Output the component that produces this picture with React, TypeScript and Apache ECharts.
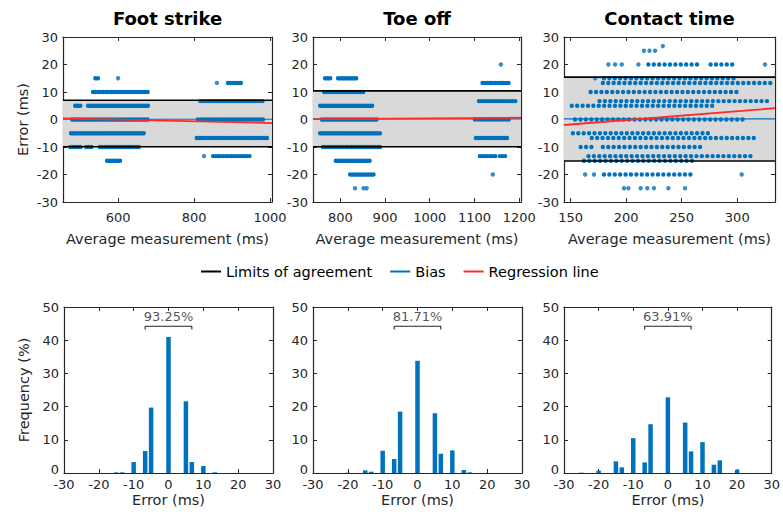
import { useEffect, useRef } from 'react';
import * as echarts from 'echarts';

const BLUE = '#0072BD';
const RED = '#FF2A2A';
const INK = '#262626';
const FONT = 'DejaVu Sans, Liberation Sans, Arial, sans-serif';

// ---------- Top row: Bland-Altman panels ----------
const titles = ['Foot strike', 'Toe off', 'Contact time'];

// rows of observations: [error, first average, last average]
const footXRange = [455, 1005];
const footXTicks = [600, 800, 1000];
const footRuns = [
  [15, 540, 553], [10, 534, 681], [5, 487, 503], [5, 521, 684], [0, 479, 679],
  [-5, 476, 671], [-10, 474, 502], [-10, 516, 531], [-10, 552, 658], [-15, 571, 610],
  [13.3, 889, 929], [6.7, 816, 981], [0, 810, 987], [-6.7, 807, 992], [-13.3, 850, 952],
];
const footPoints = [[600, 15], [860, 13.3], [826, -13.3]];
const footLoA = [7.0, -9.9];
const footBias = 0.1;
const footReg = [[455, 0.4], [1005, -1.3]];

const toeXRange = [739, 1204];
const toeXTicks = [800, 900, 1000, 1100, 1200];
const toeRuns = [
  [15, 766, 781], [15, 795, 837], [10, 764, 855], [5, 755, 873], [0, 759, 884],
  [-5, 755, 893], [-10, 761, 889], [-15, 790, 871], [-20, 822, 877],
  [13.3, 1118, 1181], [6.7, 1110, 1192], [0, 1101, 1179], [-6.7, 1103, 1177],
  [-13.3, 1112, 1150], [-13.3, 1157, 1169],
];
const toePoints = [[833, -25], [852, -25], [859, -25], [1159, 20], [1141, -20]];
const toeLoA = [10.4, -9.9];
const toeBias = 0.25;
const toeReg = [[739, 0.1], [1204, 0.65]];

const ctXRange = [144, 334];
const ctXTicks = [150, 200, 250, 300];
const ctRuns = [
  [20, 220, 265], [20, 276, 300], [15, 180, 301], [13.3, 179, 331], [10, 168, 303],
  [6.7, 176, 327], [5, 151, 282], [0, 154, 309], [-5, 152, 276], [-6.7, 169, 319],
  [-10, 159, 170], [-10, 179, 267], [-13.3, 166, 316], [-15, 162, 260], [-20, 180, 262],
];
const ctPoints = [
  [233, 26.7], [216, 25], [221, 25], [226, 25],
  [184, 20], [190, 20], [196, 20], [211, 20], [325, 20], [172, 15],
  [163, -20], [171, -20], [304, -20],
  [198, -25], [202, -25], [213, -25], [219, -25], [225, -25], [238, -25], [253, -25],
];
const ctLoA = [15.4, -15.1];
const ctBias = 0.25;
const ctReg = [[144, -2.0], [334, 4.1]];

const errorTicks = [-30, -20, -10, 0, 10, 20, 30];

// ---------- Bottom row: error histograms [error bin, frequency %] ----------
const footHist = [[-15, 0.2], [-13.3, 0.2], [-10, 3.3], [-6.7, 6.6], [-5, 19.7], [0, 41], [5, 21.6], [6.7, 3.3], [10, 2.1], [13.3, 0.2]];
const toeHist = [[-20, 0.1], [-15, 0.8], [-13.3, 0.4], [-10, 6.7], [-6.7, 4.2], [-5, 18.5], [0, 33.8], [5, 18], [6.7, 5.8], [10, 6.8], [13.3, 0.9], [15, 0.2]];
const ctHist = [[-25, 0.1], [-20, 0.7], [-15, 3.5], [-13.3, 1.7], [-10, 10.5], [-6.7, 3.2], [-5, 14.7], [0, 22.8], [5, 15.2], [6.7, 6.5], [10, 9.3], [13.3, 2.5], [15, 3.8], [20, 1.0]];
const histPercent = ['93.25%', '81.71%', '63.91%'];
const bracketRange = [-6.7, 6.7];
const bracketLevel = 44.2;
const freqTicks = [0, 10, 20, 30, 40, 50];

const legendItems = [
  { name: 'Limits of agreement', color: '#000' },
  { name: 'Bias', color: BLUE },
  { name: 'Regression line', color: RED },
];

const panels = [
  { xRange: footXRange, xTicks: footXTicks, runs: footRuns, points: footPoints, loa: footLoA, bias: footBias, reg: footReg, gap: 2.6 },
  { xRange: toeXRange, xTicks: toeXTicks, runs: toeRuns, points: toePoints, loa: toeLoA, bias: toeBias, reg: toeReg, gap: 2.6 },
  { xRange: ctXRange, xTicks: ctXTicks, runs: ctRuns, points: ctPoints, loa: ctLoA, bias: ctBias, reg: ctReg, gap: 5.4 },
];
const hists = [footHist, toeHist, ctHist];

const topGrids = [
  { left: 63, top: 37, width: 209, height: 165 },
  { left: 313, top: 37, width: 208, height: 165 },
  { left: 564, top: 37, width: 211, height: 165 },
];
const bottomGrids = [
  { left: 64, top: 307, width: 209, height: 166 },
  { left: 313, top: 307, width: 209, height: 166 },
  { left: 564, top: 307, width: 211, height: 166 },
];

function axisPair(kind: 'x' | 'y', g: number, min: number, max: number, ticks: number[], extra: any) {
  const line = { show: true, onZero: false, lineStyle: { color: INK, width: 1.2 } };
  const tick = { show: true, inside: true, length: 4, customValues: ticks, lineStyle: { color: INK, width: 1 } };
  const main: any = {
    type: 'value', gridIndex: g, min, max,
    position: kind === 'x' ? 'bottom' : 'left',
    axisLine: line, axisTick: tick, splitLine: { show: false },
    axisLabel: {
      customValues: ticks, color: INK, fontSize: 13, fontFamily: FONT, margin: extra.margin,
      formatter: extra.liftZero
        ? (v: number) => (v === 0 ? '{z|0}' : String(v))
        : (v: number) => String(v),
      rich: { z: { color: INK, fontSize: 13, fontFamily: FONT, padding: [0, 0, 8, 0] } },
    },
    nameLocation: 'middle', nameTextStyle: { color: INK, fontSize: 14.5, fontFamily: FONT },
    ...extra.main,
  };
  const opp: any = {
    type: 'value', gridIndex: g, min, max,
    position: kind === 'x' ? 'top' : 'right',
    axisLine: line, axisTick: tick, splitLine: { show: false }, axisLabel: { show: false },
  };
  return [main, opp];
}

function buildOption() {
  const grid: any[] = [...topGrids, ...bottomGrids];
  const xAxis: any[] = [];
  const yAxis: any[] = [];
  const series: any[] = [];

  panels.forEach((p, i) => {
    xAxis.push(...axisPair('x', i, p.xRange[0], p.xRange[1], p.xTicks, { margin: 9, main: { name: 'Average measurement (ms)', nameGap: 29 } }));
    yAxis.push(...axisPair('y', i, -30, 30, errorTicks, { margin: 5, main: i === 0 ? { name: 'Error (ms)', nameGap: 33 } : {} }));
  });
  hists.forEach((h, i) => {
    const g = 3 + i;
    xAxis.push(...axisPair('x', g, -30, 30, errorTicks, { margin: 5, main: { name: 'Error (ms)', nameGap: 19 } }));
    yAxis.push(...axisPair('y', g, 0, 50, freqTicks, { margin: 5, liftZero: true, main: i === 0 ? { name: 'Frequency (%)', nameGap: 33 } : {} }));
  });

  panels.forEach((p, i) => {
    const ax = { xAxisIndex: 2 * i, yAxisIndex: 2 * i };
    const [x0, x1] = p.xRange;
    p.runs.forEach((r) => {
      series.push({
        type: 'line', ...ax, silent: true, symbol: 'none', z: 3,
        data: [[r[1], r[0]], [r[2], r[0]]],
        lineStyle: { color: BLUE, width: 4.4, type: [0, p.gap], cap: 'round' },
      });
    });
    series.push({
      type: 'scatter', ...ax, silent: true, z: 3, symbolSize: 4.4,
      data: p.points, itemStyle: { color: BLUE },
    });
    series.push({
      type: 'line', name: 'Limits of agreement', color: '#000', ...ax, silent: true, symbol: 'none', z: 4,
      data: [[x0, p.loa[0]], [x1, p.loa[0]]],
      lineStyle: { color: '#000', width: 1.6 },
      markArea: { silent: true, z: 1, itemStyle: { color: '#d9d9d9' }, data: [[{ yAxis: p.loa[1] }, { yAxis: p.loa[0] }]] },
    });
    series.push({
      type: 'line', name: 'Limits of agreement', color: '#000', ...ax, silent: true, symbol: 'none', z: 4,
      data: [[x0, p.loa[1]], [x1, p.loa[1]]],
      lineStyle: { color: '#000', width: 1.6 },
    });
    series.push({
      type: 'line', name: 'Bias', color: BLUE, ...ax, silent: true, symbol: 'none', z: 4,
      data: [[x0, p.bias], [x1, p.bias]],
      lineStyle: { color: BLUE, width: 1.2 },
    });
    series.push({
      type: 'line', name: 'Regression line', color: RED, ...ax, silent: true, symbol: 'none', z: 5,
      data: p.reg,
      lineStyle: { color: RED, width: 1.8 },
    });
  });

  hists.forEach((h, i) => {
    const k = 2 * (3 + i);
    const ax = { xAxisIndex: k, yAxisIndex: k };
    series.push({ type: 'bar', ...ax, silent: true, data: h, barWidth: 4.5, itemStyle: { color: BLUE } });
    series.push({
      type: 'line', ...ax, silent: true, symbol: 'none',
      data: [[bracketRange[0], bracketLevel - 1], [bracketRange[0], bracketLevel], [bracketRange[1], bracketLevel], [bracketRange[1], bracketLevel - 1]],
      lineStyle: { color: INK, width: 1.1 },
    });
    series.push({
      type: 'scatter', ...ax, silent: true, symbolSize: 1, itemStyle: { color: 'rgba(0,0,0,0)' },
      data: [[0, bracketLevel]],
      label: { show: true, position: 'top', distance: 3, formatter: histPercent[i], color: INK, fontSize: 13, fontFamily: FONT },
    });
  });

  const graphic = titles.map((t, i) => ({
    type: 'text',
    x: topGrids[i].left + topGrids[i].width / 2,
    y: 18,
    style: { text: t, textAlign: 'center', textVerticalAlign: 'middle', font: `bold 18px ${FONT}`, fill: '#000' },
  }));

  return {
    animation: false,
    backgroundColor: '#fff',
    grid,
    xAxis,
    yAxis,
    series,
    graphic,
    legend: {
      show: true,
      selectedMode: false,
      left: 196,
      top: 259,
      itemWidth: 20,
      itemHeight: 2,
      itemGap: 18,
      data: legendItems.map((it) => ({ name: it.name, icon: 'rect', itemStyle: { color: it.color, opacity: 1 } })),
      textStyle: { color: '#000', fontSize: 14.5, fontFamily: FONT },
    },
  };
}

export default function App() {
  const ref = useRef<HTMLDivElement>(null);
  useEffect(() => {
    document.body.style.margin = '0';
    const chart = echarts.init(ref.current as HTMLDivElement, undefined, { renderer: 'svg' });
    chart.setOption(buildOption() as any);
    return () => chart.dispose();
  }, []);
  return <div ref={ref} style={{ width: 783, height: 519 }} />;
}
